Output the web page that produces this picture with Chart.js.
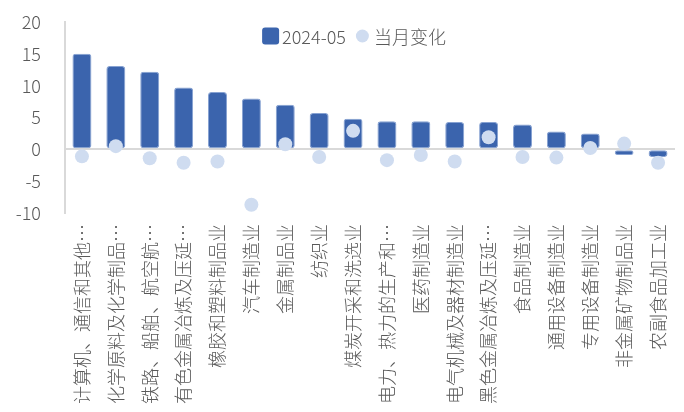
<!DOCTYPE html>
<html lang="zh">
<head>
    <meta charset="UTF-8">
    <title>行业变化</title>
    <script src="https://cdn.jsdelivr.net/npm/chart.js"></script>
    <style>
        html, body { margin: 0; padding: 0; background: #fff; }
        #wrap { width: 684px; height: 412px; }
    </style>
</head>
<body>
    <div id="wrap">
    <canvas id="myChart"></canvas>
    </div>
    <script>
        // 数据
        const categories = [
            '计算机、通信和其他…', '化学原料及化学制品…', '铁路、船舶、航空航…', '有色金属冶炼及压延…',
            '橡胶和塑料制品业', '汽车制造业', '金属制品业', '纺织业', '煤炭开采和洗选业',
            '电力、热力的生产和…', '医药制造业', '电气机械及器材制造业', '黑色金属冶炼及压延…',
            '食品制造业', '通用设备制造业', '专用设备制造业', '非金属矿物制品业', '农副食品加工业'
        ];
        const value202405 = [15.0, 13.1, 12.2, 9.7, 9.0, 8.0, 7.0, 5.7, 4.8, 4.4, 4.4, 4.3, 4.3, 3.9, 2.8, 2.5, -0.9, -1.2];
        const monthChange = [-1.1, 0.5, -1.4, -2.1, -1.9, -8.7, 0.8, -1.2, 2.9, -1.7, -0.9, -1.9, 1.9, -1.2, -1.3, 0.2, 0.9, -2.1];
        const yTicks = [-10, -5, 0, 5, 10, 15, 20];

        const FONT = "'Noto Sans CJK SC', 'Noto Sans', sans-serif";
        const TEXT = '#595959';

        // 图例自己画 (放在绘图区里面)
        const legendInside = {
            id: 'legendInside',
            afterDraw(chart) {
                const ctx = chart.ctx;
                const ds = chart.data.datasets;
                ctx.save();
                ctx.font = '300 18px ' + FONT;
                ctx.textBaseline = 'middle';
                ctx.fillStyle = TEXT;
                const box = 17, gap = 3, itemGap = 8;
                const w0 = box + gap + ctx.measureText(ds[1].label).width;
                const w1 = box + gap + ctx.measureText(ds[0].label).width;
                let x = 354 - (w0 + itemGap + w1) / 2;
                const y = 36;
                // 柱子图例
                ctx.fillStyle = ds[1].backgroundColor;
                ctx.beginPath();
                ctx.roundRect(x, y - box / 2, box, box, 3);
                ctx.fill();
                ctx.fillStyle = TEXT;
                ctx.fillText(ds[1].label, x + box + gap, y + 1);
                x += w0 + itemGap;
                // 点图例
                ctx.fillStyle = ds[0].backgroundColor;
                ctx.beginPath();
                ctx.arc(x + box / 2, y, 6.5, 0, Math.PI * 2);
                ctx.fill();
                ctx.fillStyle = TEXT;
                ctx.fillText(ds[0].label, x + box + gap, y + 1);
                ctx.restore();
            }
        };

        const data = {
            labels: categories,
            datasets: [
                {
                    type: 'line',
                    label: '当月变化',
                    data: monthChange,
                    showLine: false,
                    pointRadius: 7,
                    pointHoverRadius: 7,
                    backgroundColor: '#cfdcf0',
                    borderColor: '#cfdcf0',
                    borderWidth: 0,
                    order: 0
                },
                {
                    type: 'bar',
                    label: '2024-05',
                    data: value202405,
                    backgroundColor: '#3b64ad',
                    borderColor: '#87a2d2',
                    borderWidth: 1,
                    borderRadius: 3,
                    borderSkipped: false,
                    categoryPercentage: 1,
                    barPercentage: 0.56,
                    order: 1
                }
            ]
        };

        const config = {
            type: 'bar',
            data: data,
            options: {
                responsive: true,
                maintainAspectRatio: false,
                animation: false,
                layout: { padding: { top: 22, right: 9, left: 0, bottom: 0 } },
                plugins: {
                    legend: { display: false },
                    tooltip: { enabled: false }
                },
                scales: {
                    x: {
                        grid: { display: false },
                        border: { display: false },
                        ticks: {
                            autoSkip: false,
                            minRotation: 90,
                            maxRotation: 90,
                            padding: 3,
                            color: TEXT,
                            font: { family: FONT, size: 18, weight: 300 }
                        },
                        afterFit(scale) { scale.height = 199; }
                    },
                    y: {
                        min: -10,
                        max: 20,
                        afterBuildTicks(scale) { scale.ticks = yTicks.map(v => ({ value: v })); },
                        grid: {
                            drawTicks: false,
                            color: c => (c.tick && c.tick.value === 0 ? '#d9d9d9' : 'rgba(0,0,0,0)'),
                            lineWidth: 2
                        },
                        border: { display: true, color: '#d9d9d9', width: 2 },
                        ticks: {
                            padding: 24,
                            color: TEXT,
                            font: { family: FONT, size: 18, weight: 300 }
                        },
                        // 刻度的 padding 不要把绘图区往下挤
                        afterFit(scale) {
                            scale.width = 65;
                            scale.paddingTop = 0;
                            scale.paddingBottom = 0;
                        }
                    }
                }
            },
            plugins: [legendInside]
        };

        const ctx = document.getElementById('myChart').getContext('2d');
        const myChart = new Chart(ctx, config);
    </script>
</body>
</html>
